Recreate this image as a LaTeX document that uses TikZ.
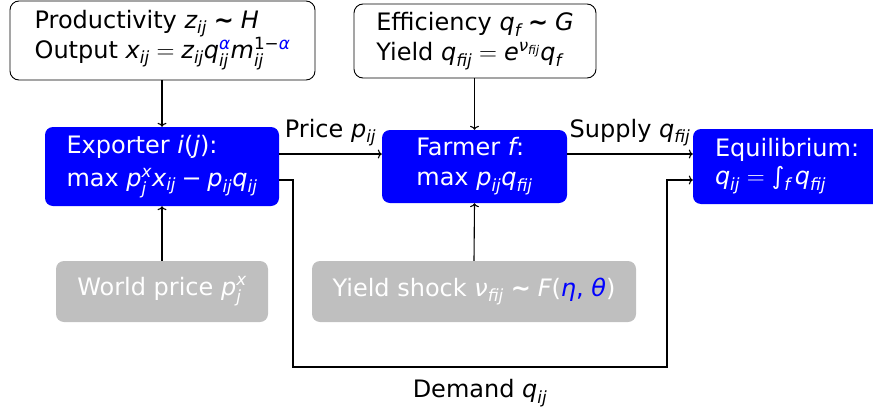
\documentclass[tikz,border=0pt]{standalone}
\usepackage{amsmath}
\usepackage{fontspec}
\setmainfont{DejaVu Sans}
\usetikzlibrary{arrows.meta}
\newcommand\iv[1]{\text{\itshape #1}}
\newcommand\eqs{=}
\newcommand\tsim{\mathrel{\text{\bfseries ∼}}}
\newcommand\tmin{\mathbin{\text{−}}}
\definecolor{bblue}{RGB}{0,0,255}
\definecolor{bgray}{RGB}{191,191,191}
\tikzset{
  txt/.style={font=\fontsize{24}{28}\selectfont},
  box/.style={txt, draw=black, fill=white, rounded corners=9pt, line width=0.9pt, align=left, inner sep=0pt},
  bluebox/.style={txt, fill=bblue, text=white, rounded corners=8pt, align=left, inner sep=0pt},
  graybox/.style={txt, fill=bgray, text=white, rounded corners=8pt, align=left, inner sep=0pt},
  lab/.style={txt, inner sep=0pt},
  conn/.style={line width=1.1pt, -{To[length=4pt,width=9pt]}},
}
\begin{document}
\begin{tikzpicture}[x=1pt,y=-1pt]
\useasboundingbox (0,0) rectangle (873,407);
\node[box, minimum width=305pt, minimum height=79pt] (tl) at (162.5,40.5)
  {Productivity $\iv{z}_{\iv{ij}}\tsim\iv{H}$\\
   Output $\iv{x}_{\iv{ij}}\eqs\iv{z}_{\iv{ij}}\iv{q}^{\textcolor{bblue}{\iv{α}}}_{\iv{ij}}\iv{m}^{\text{1}\tmin\textcolor{bblue}{\iv{α}}}_{\iv{ij}}$};
\node[box, minimum width=242pt, minimum height=74pt] (tm) at (475,41)
  {Efficiency $\iv{q}_{\iv{f}}\tsim\iv{G}$\\[2pt]
   Yield $\iv{q}_{\iv{fij}}\eqs\iv{e}^{\iv{ν}_{\iv{fij}}}\iv{q}_{\iv{f}}$};
\node[bluebox, minimum width=234pt, minimum height=79pt] (exp) at (162,166.5)
  {Exporter \iv{i}(\iv{j}):\\[5pt]
   max $\iv{p}^{\iv{x}}_{\iv{j}}\iv{x}_{\iv{ij}}\tmin\iv{p}_{\iv{ij}}\iv{q}_{\iv{ij}}$};
\node[bluebox, minimum width=185pt, minimum height=73pt] (farm) at (474.5,166.5)
  {Farmer \iv{f}:\\[2pt]
   max $\iv{p}_{\iv{ij}}\iv{q}_{\iv{fij}}$};
\node[bluebox, minimum width=200pt, minimum height=75pt, text width=156pt, inner xsep=22pt] (eq) at (793,166.5)
  {Equilibrium:\\
   $\iv{q}_{\iv{ij}}\eqs\text{∫}_{\iv{f}}\,\iv{q}_{\iv{fij}}$};
\node[graybox, minimum width=212pt, minimum height=61pt] (wp) at (162,291.5)
  {World price $\iv{p}^{\iv{x}}_{\iv{j}}$};
\node[graybox, minimum width=324pt, minimum height=61pt] (ys) at (474,291.5)
  {Yield shock $\iv{ν}_{\iv{fij}}\tsim\iv{F}\text{(}\textcolor{bblue}{\iv{η}\text{, }\iv{θ}}\text{)}$};
\coordinate (e1) at (exp.east |- 0,154);
\coordinate (f1) at (farm.west |- 0,154);
\coordinate (f2) at (farm.east |- 0,154);
\coordinate (q1) at (eq.west |- 0,154);
\coordinate (e2) at (exp.east |- 0,180);
\coordinate (d1) at (293,180);
\coordinate (d2) at (293,367);
\coordinate (d3) at (667,367);
\coordinate (d4) at (667,180);
\coordinate (q2) at (eq.west |- 0,180);
\draw[conn] (tl.south -| exp.north) -- (exp.north);
\draw[conn] (tm.south -| farm.north) -- (farm.north);
\draw[conn] (wp.north) -- (exp.south);
\draw[conn] (ys.north) -- (farm.south);
\draw[conn] (e1) -- node[lab, above=7pt] (lp) {Price $\iv{p}_{\iv{ij}}$} (f1);
\draw[conn] (f2) -- node[lab, above=7pt] (ls) {Supply $\iv{q}_{\iv{fij}}$} (q1);
\draw[conn] (e2) -- (d1) -- (d2) -- node[lab, below=12pt] (ld) {Demand $\iv{q}_{\iv{ij}}$} (d3) -- (d4) -- (q2);
\end{tikzpicture}
\end{document}
